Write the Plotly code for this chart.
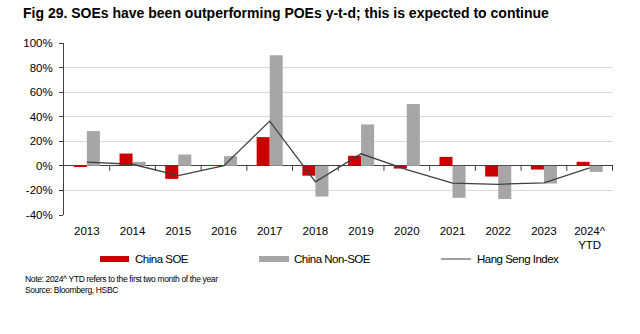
import plotly.graph_objects as go

# Annual returns (%)
years = ["2013", "2014", "2015", "2016", "2017", "2018", "2019", "2020",
         "2021", "2022", "2023", "2024^<br>YTD"]
china_soe = [-1, 10, -10.6, 0.3, 23.4, -8, 8.2, -2.2, 7.3, -8.7, -3, 3.3]
china_non_soe = [28.3, 3.3, 9.2, 7.9, 90, -25, 33.7, 50.3, -26, -27, -14.4, -4.9]
hang_seng = [3, 1.3, -7.9, 0.2, 36.4, -13, 9.8, -3, -14, -15, -13.8, -1.6]

y_ticks = [-40, -20, 0, 20, 40, 60, 80, 100]
y_labels = [f"{v}%" for v in y_ticks]

FONT = "Liberation Sans, Arial, sans-serif"
RED = "#C90000"
GREY = "#A6A6A6"
LINE = "#404040"

W, H = 640, 334
L, R, T, B = 64, 27, 43, 119
PW, PH = W - L - R, H - T - B


def px(x):
    """pixel column -> paper x"""
    return (x - L) / PW


def py(y):
    """pixel row -> paper y"""
    return (H - B - y) / PH


def tight(text, ls):
    return f'<span style="letter-spacing:{ls}px">{text}</span>'


fig = go.Figure()
fig.add_trace(go.Bar(x=years, y=china_soe, name="China SOE",
                     marker=dict(color=RED, line=dict(width=0)), showlegend=False))
fig.add_trace(go.Bar(x=years, y=china_non_soe, name="China Non-SOE",
                     marker=dict(color=GREY, line=dict(width=0)), showlegend=False))
fig.add_trace(go.Scatter(x=years, y=hang_seng, name="Hang Seng Index", mode="lines",
                         line=dict(color=LINE, width=1.3), showlegend=False))

# small tick marks on the zero line between categories
shapes = []
for i in range(1, len(years) + 1):
    shapes.append(dict(type="line", xref="x", yref="y", x0=i - 0.5, x1=i - 0.5,
                       ysizemode="pixel", yanchor=0, y0=0, y1=-5,
                       line=dict(color=LINE, width=1)))

# legend: swatch start, swatch end, label start
legend_items = [("China SOE", RED, "bar", 100, 129, 133),
                ("China Non-SOE", GREY, "bar", 259, 289, 292),
                ("Hang Seng Index", LINE, "line", 441, 471, 475)]
annotations = []
ly = 259
for label, color, kind, x0, x1, tx in legend_items:
    if kind == "bar":
        shapes.append(dict(type="rect", xref="paper", yref="paper",
                           x0=px(x0), x1=px(x1), y0=py(ly + 3), y1=py(ly - 3),
                           fillcolor=color, line=dict(width=0)))
    else:
        shapes.append(dict(type="line", xref="paper", yref="paper",
                           x0=px(x0), x1=px(x1), y0=py(ly), y1=py(ly),
                           line=dict(color=color, width=1)))
    annotations.append(dict(text=tight(label, -0.5), xref="paper", yref="paper",
                            x=px(tx), y=py(ly), xanchor="left", yanchor="middle",
                            showarrow=False,
                            font=dict(family=FONT, size=11.5, color="#000000")))

for text, row in [("Note: 2024^ YTD refers to the first two month of the year", 279),
                  ("Source: Bloomberg, HSBC", 290)]:
    annotations.append(dict(text=tight(text, -0.35), xref="paper", yref="paper",
                            x=px(23), y=py(row), xanchor="left", yanchor="middle",
                            showarrow=False,
                            font=dict(family=FONT, size=8.5, color="#000000")))

fig.update_layout(
    width=W, height=H,
    margin=dict(l=L, r=R, t=T, b=B),
    paper_bgcolor="white", plot_bgcolor="white",
    barmode="group", bargap=0.43, bargroupgap=0,
    title=dict(text="<b>Fig 29. SOEs have been outperforming POEs y-t-d; this is expected to continue</b>",
               x=23 / W, xanchor="left", y=1 - 13 / H, yanchor="middle",
               font=dict(family=FONT, size=14, color="#000000")),
    xaxis=dict(type="category", showline=False, ticks="", showgrid=False,
               ticklabelstandoff=7,
               tickfont=dict(family=FONT, size=11.5, color="#000000")),
    yaxis=dict(range=[-40, 100], tickvals=y_ticks, ticktext=y_labels,
               showgrid=True, gridcolor="#D9D9D9", gridwidth=1,
               zeroline=True, zerolinecolor=LINE, zerolinewidth=1,
               showline=True, linecolor=LINE, linewidth=1,
               ticks="outside", ticklen=4, tickcolor=LINE,
               ticklabelstandoff=4,
               tickfont=dict(family=FONT, size=11.5, color="#000000")),
    shapes=shapes, annotations=annotations,
)

fig.write_html("out.html")
